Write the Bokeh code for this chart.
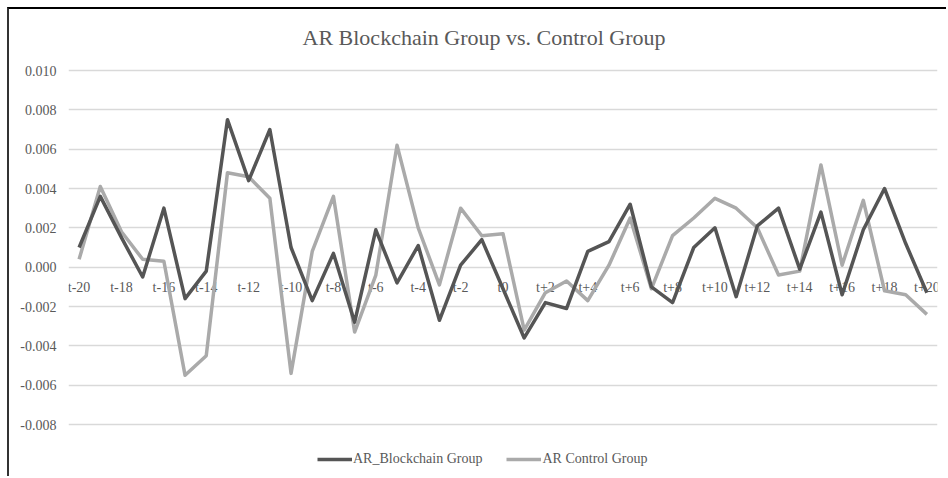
from bokeh.plotting import figure
from bokeh.models import (ColumnDataSource, FactorRange, Range1d, FixedTicker,
                          PrintfTickFormatter, Legend, LegendItem, Label)
from bokeh.core.properties import value
from bokeh.embed import file_html
from bokeh.resources import INLINE

# ---- data ----
periods = [f"t{k}" if k <= 0 else f"t+{k}" for k in range(-20, 21)]
periods[20] = "t0"
blockchain = [0.0010, 0.0036, 0.0015, -0.0005, 0.0030, -0.0016, -0.0002, 0.0075, 0.0044, 0.0070,
              0.0010, -0.0017, 0.0007, -0.0028, 0.0019, -0.0008, 0.0011, -0.0027, 0.0001, 0.0014,
              -0.0011, -0.0036, -0.0018, -0.0021, 0.0008, 0.0013, 0.0032, -0.0010, -0.0018, 0.0010,
              0.0020, -0.0015, 0.0021, 0.0030, -0.0001, 0.0028, -0.0014, 0.0019, 0.0040, 0.0012,
              -0.0013]
control = [0.0004, 0.0041, 0.0018, 0.0004, 0.0003, -0.0055, -0.0045, 0.0048, 0.0046, 0.0035,
           -0.0054, 0.0008, 0.0036, -0.0033, -0.0004, 0.0062, 0.0020, -0.0009, 0.0030, 0.0016,
           0.0017, -0.0032, -0.0013, -0.0007, -0.0017, 0.0001, 0.0025, -0.0011, 0.0016, 0.0025,
           0.0035, 0.0030, 0.0020, -0.0004, -0.0002, 0.0052, 0.0001, 0.0034, -0.0012, -0.0014,
           -0.0024]
tick_labels = periods[::2]
y_ticks = [-0.008, -0.006, -0.004, -0.002, 0.0, 0.002, 0.004, 0.006, 0.008, 0.010]
title_text = "AR Blockchain Group vs. Control Group"
series_names = ["AR_Blockchain Group", "AR Control Group"]

FONT = "Liberation Serif"
TXT = "#595959"
DARK = "#555555"
LIGHT = "#aaaaaa"

# layout: the plotting area spans the whole canvas height; the gridded band
# (-0.008 .. 0.010) occupies 354 px, with 61 px above it and 54 px below it.
band_px = 354.0
per_px = (y_ticks[-1] - y_ticks[0]) / band_px
y_hi = y_ticks[-1] + 61 * per_px
y_lo = y_ticks[0] - 54 * per_px

p = figure(width=939, height=469, output_backend="svg", toolbar_location=None,
           x_range=FactorRange(factors=periods, range_padding=0),
           y_range=Range1d(y_lo, y_hi),
           min_border_left=59, min_border_right=11, min_border_top=0, min_border_bottom=0)
p.styles = {"margin-left": "7px", "margin-top": "7px",
            "border-top": "2px solid #000000", "border-left": "2px solid #333333"}
p.title.visible = False
p.outline_line_color = None
p.background_fill_color = "white"
p.border_fill_color = "white"

p.xaxis.visible = False
p.xgrid.visible = False
p.ygrid.grid_line_color = "#d9d9d9"
p.ygrid.grid_line_width = 1.5
p.ygrid.ticker = FixedTicker(ticks=y_ticks)
p.yaxis.ticker = FixedTicker(ticks=y_ticks)
p.yaxis.formatter = PrintfTickFormatter(format="%.3f")
p.yaxis.axis_line_color = None
p.yaxis.major_tick_line_color = None
p.yaxis.minor_tick_line_color = None
p.yaxis.major_tick_in = 0
p.yaxis.major_tick_out = 0
p.yaxis.major_label_standoff = 12
p.yaxis.major_label_text_font = FONT
p.yaxis.major_label_text_font_size = "14px"
p.yaxis.major_label_text_color = TXT

# category labels along the zero line (Excel style)
lab_src = ColumnDataSource(dict(x=tick_labels, y=[0.0] * len(tick_labels), t=tick_labels))
p.text(x="x", y="y", text="t", source=lab_src, text_font=value(FONT), text_font_size="14px",
       text_color=TXT, text_align="center", text_baseline="alphabetic", y_offset=20)

src = ColumnDataSource(dict(x=periods, b=blockchain, c=control))
r1 = p.line("x", "b", source=src, line_color=DARK, line_width=3.5, line_join="round")
r2 = p.line("x", "c", source=src, line_color=LIGHT, line_width=3.5, line_join="round")
p.renderers.remove(r2)
p.renderers.insert(p.renderers.index(r1), r2)

legend = Legend(items=[LegendItem(label=series_names[0], renderers=[r1]),
                       LegendItem(label=series_names[1], renderers=[r2])],
                orientation="horizontal", location=(249, 11),
                label_text_font=FONT, label_text_font_size="14px", label_text_color=TXT,
                glyph_width=35, glyph_height=16, label_height=16, label_standoff=1,
                spacing=24, padding=0, margin=0,
                border_line_color=None, background_fill_alpha=0)
p.add_layout(legend, "center")

p.add_layout(Label(x=415.5, y=441, x_units="screen", y_units="screen", text=title_text,
                   text_font=FONT, text_font_size="22px", text_color=TXT,
                   text_align="center", text_baseline="alphabetic"))

open("out.html", "w").write(file_html(p, INLINE))
